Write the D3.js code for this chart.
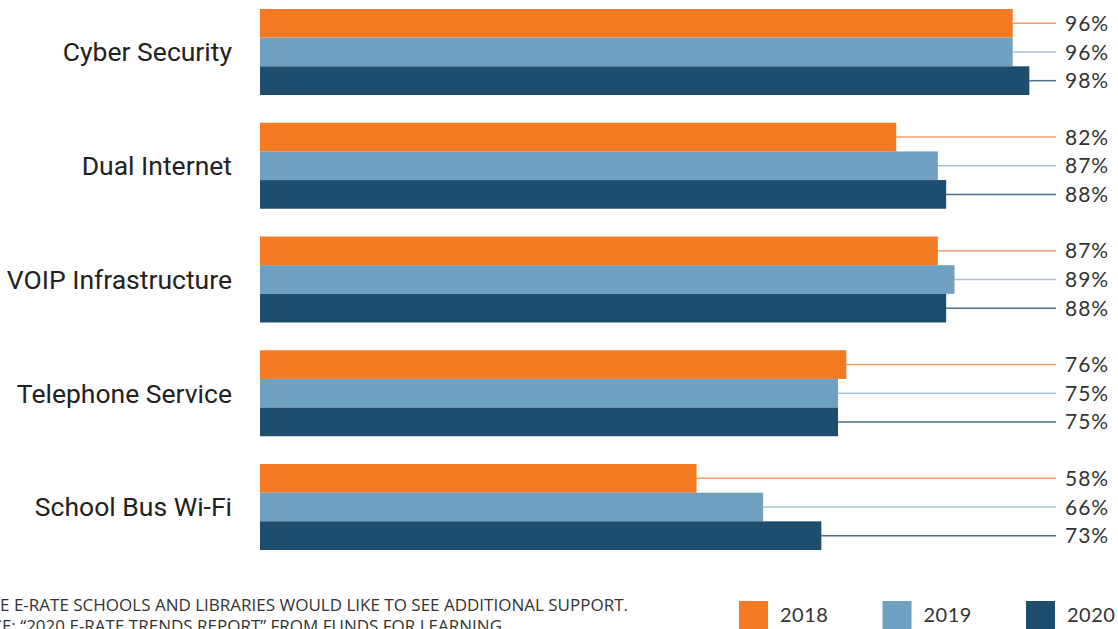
<!DOCTYPE html>
<html>
<head>
<meta charset="utf-8">
<script src="https://cdn.jsdelivr.net/npm/d3@7"></script>
<style>
  body { margin: 0; background: #fff; overflow: hidden; }
</style>
</head>
<body>
<div id="container"></div>
<script>

let categories = ["Cyber Security", "Dual Internet", "VOIP Infrastructure", "Telephone Service", "School Bus Wi-Fi"];
let years = ["2018", "2019", "2020"];
let values2018 = [96, 82, 87, 76, 58];
let values2019 = [96, 87, 89, 75, 66];
let values2020 = [98, 88, 88, 75, 73];
let footnotes = [
  "WHERE E-RATE SCHOOLS AND LIBRARIES WOULD LIKE TO SEE ADDITIONAL SUPPORT.",
  "SOURCE: \u201C2020 E-RATE TRENDS REPORT\u201D FROM FUNDS FOR LEARNING"
];

let w = 1118;
let h = 629;

let barColors = ["#f47b24", "#70a1c0", "#1e4d6d"];
let lineColors = ["#f4a06a", "#a6c4d8", "#4d6f8a"];

let viz = d3.select("#container")
  .append("svg")
    .attr("width", w)
    .attr("height", h)
;

let series = [values2018, values2019, values2020];
let rows = [];
categories.forEach(function(c, i){
  years.forEach(function(y, j){
    rows.push({ cat: c, year: y, idx: j, value: series[j][i] });
  });
});

// bars don't start at zero in the original, scale fitted to bar lengths
let xScale = d3.scaleLinear().domain([0, 100]).range([214, 1046]);
let barStart = 260;
let lineEnd = 1056;

let yGroup = d3.scaleBand().domain(categories).range([9, 550]).paddingInner(0.244).paddingOuter(0);
let yInner = d3.scaleBand().domain(years).range([0, yGroup.bandwidth()]);

let groups = viz.selectAll(".group").data(categories).enter()
  .append("g")
    .attr("class", "group")
    .attr("transform", function(d){ return "translate(0," + yGroup(d) + ")"; })
;

groups.append("text")
  .text(function(d){ return d; })
  .attr("x", 232)
  .attr("y", yGroup.bandwidth() / 2)
  .attr("dy", "0.35em")
  .attr("text-anchor", "end")
  .attr("font-family", "Roboto, sans-serif")
  .attr("font-size", "26.5px")
  .attr("fill", "#222");

let bars = groups.selectAll(".bar")
  .data(function(c){ return rows.filter(function(r){ return r.cat == c; }); })
  .enter()
  .append("g")
    .attr("class", "bar")
    .attr("transform", function(d){ return "translate(0," + yInner(d.year) + ")"; })
;

bars.append("line")
  .attr("x1", function(d){ return xScale(d.value); })
  .attr("x2", lineEnd)
  .attr("y1", yInner.bandwidth() / 2)
  .attr("y2", yInner.bandwidth() / 2)
  .attr("stroke", function(d){ return lineColors[d.idx]; })
  .attr("stroke-width", 1.5);

bars.append("rect")
  .attr("x", barStart)
  .attr("y", 0)
  .attr("width", function(d){ return xScale(d.value) - barStart; })
  .attr("height", yInner.bandwidth())
  .attr("fill", function(d){ return barColors[d.idx]; });

bars.append("text")
  .text(function(d){ return d.value + "%"; })
  .attr("x", 1065)
  .attr("y", yInner.bandwidth() / 2)
  .attr("dy", "0.36em")
  .attr("font-family", "Lato, sans-serif")
  .attr("font-size", "21px")
  .attr("letter-spacing", "1px")
  .attr("fill", "#333");

// footnote, cut off at the left edge like the original
viz.selectAll(".foot").data(footnotes).enter()
  .append("text")
    .attr("class", "foot")
    .text(function(d){ return d; })
    .attr("x", function(d, i){ return i == 0 ? 628 : 502; })
    .attr("y", function(d, i){ return 611 + i * 21; })
    .attr("text-anchor", "end")
    .attr("font-family", "'Liberation Sans Narrow', 'Open Sans', sans-serif")
    .attr("font-size", "17px")
    .attr("fill", "#333");

// legend
let legendX = d3.scalePoint().domain(years).range([739, 1026]);
let legend = viz.selectAll(".legend").data(years).enter()
  .append("g")
    .attr("class", "legend")
    .attr("transform", function(d){ return "translate(" + legendX(d) + ",601)"; })
;
legend.append("rect")
  .attr("width", 29)
  .attr("height", 29)
  .attr("fill", function(d, i){ return barColors[i]; });
legend.append("text")
  .text(function(d){ return d; })
  .attr("x", 41)
  .attr("y", 14)
  .attr("dy", "0.36em")
  .attr("font-family", "Lato, sans-serif")
  .attr("font-size", "20px")
  .attr("letter-spacing", "0.5px")
  .attr("fill", "#333");

</script>
</body>
</html>
